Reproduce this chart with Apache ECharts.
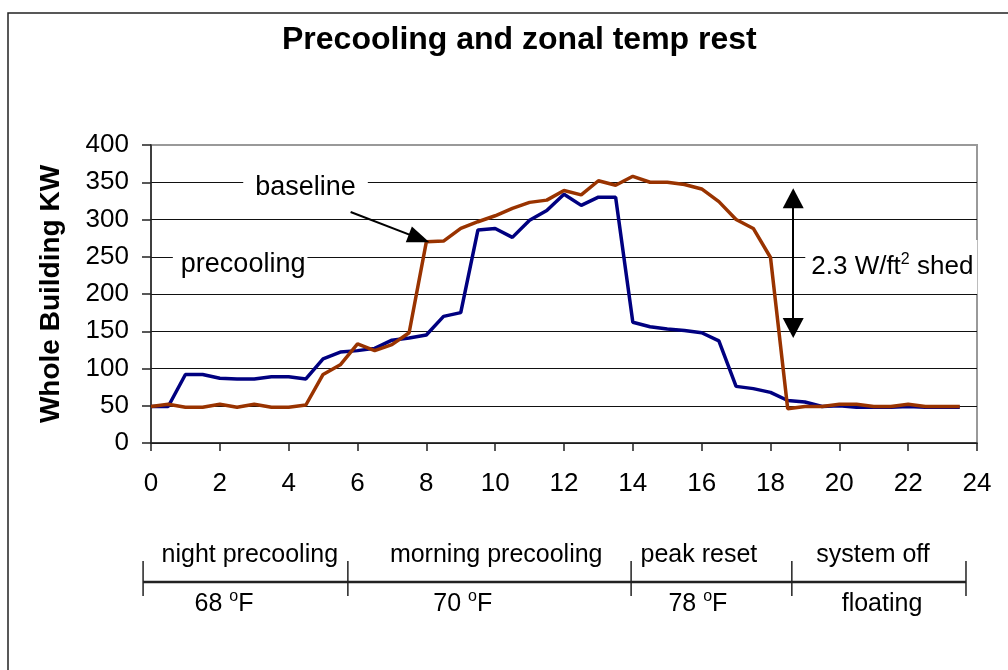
<!DOCTYPE html>
<html>
<head>
<meta charset="utf-8">
<style>
  html, body { margin: 0; padding: 0; background: #fff; }
  #chart { width: 1008px; height: 670px; }
</style>
<script src="https://cdn.jsdelivr.net/npm/echarts@6/dist/echarts.min.js"></script>
</head>
<body>
<div id="chart"></div>
<script>
var FONT = '"Liberation Sans", Arial, sans-serif';

// half-hour readings, hour of day
var hours = [0, 0.5, 1, 1.5, 2, 2.5, 3, 3.5, 4, 4.5, 5, 5.5, 6, 6.5, 7, 7.5,
    8, 8.5, 9, 9.5, 10, 10.5, 11, 11.5, 12, 12.5, 13, 13.5, 14, 14.5, 15, 15.5,
    16, 16.5, 17, 17.5, 18, 18.5, 19, 19.5, 20, 20.5, 21, 21.5, 22, 22.5, 23, 23.5];

var precooling = [49, 49, 92, 92, 87, 86, 86, 89, 89, 86, 113, 122, 124, 127, 138, 141,
    145, 170, 175, 286, 288, 276, 299, 312, 334, 319, 330, 330, 162, 156, 153, 151,
    148, 137, 76, 73, 68, 57, 55, 49, 50, 48, 48, 48, 49, 48, 48, 48];

var baseline = [49, 52, 48, 48, 52, 48, 52, 48, 48, 51, 92, 105, 133, 124, 132, 148,
    270, 271, 288, 297, 305, 315, 323, 326, 339, 333, 352, 346, 358, 350, 350, 347,
    341, 324, 300, 288, 249, 46, 49, 49, 52, 52, 49, 49, 52, 49, 49, 49];

// schedule strip under the chart (positions in hours)
var phaseEdges = [-0.23, 5.72, 13.95, 18.62, 23.68];
var phaseNames = ['night precooling', 'morning precooling', 'peak reset', 'system off'];
var phaseNameAt = [2.87, 10.03, 15.92, 20.98];
var phaseTemps = ['68', '70', '78', ''];
var phaseTempAt = [2.12, 9.06, 15.89, 21.24];

function pairs(xs, ys) {
    return xs.map(function (x, i) { return [x, ys[i]]; });
}

// small raised text inside rich labels
var supStyle = {
    fontSize: 16, fontFamily: FONT, color: '#000',
    lineHeight: 16, verticalAlign: 'top', padding: [0, 0, 12, 0]
};

var noteLabel = function (pad, size) {
    return {
        show: true,
        position: 'inside',
        formatter: '{b}',
        color: '#000',
        fontFamily: FONT,
        fontSize: size,
        lineHeight: 30,
        backgroundColor: '#fff',
        padding: pad,
        rich: { sup: supStyle }
    };
};

var gridColors = ['#111', '#111', '#111', '#111', '#111', '#111', '#111', '#111', '#999'];

var option = {
    animation: false,
    backgroundColor: '#fff',
    title: {
        text: 'Precooling and zonal temp rest',
        left: 282,
        top: 24,
        padding: 0,
        textStyle: { color: '#000', fontSize: 32, fontWeight: 'bold', fontFamily: FONT }
    },
    grid: {
        left: 151, right: 31, top: 145, bottom: 227,
        show: true, borderColor: '#999', borderWidth: 2,
        outerBoundsMode: 'none'
    },
    xAxis: {
        type: 'value', min: 0, max: 24, interval: 2,
        axisLine: { lineStyle: { color: '#222', width: 1.5 } },
        axisTick: { length: 8, lineStyle: { color: '#222', width: 1.5 } },
        axisLabel: { color: '#000', fontSize: 26, fontFamily: FONT, margin: 28 },
        splitLine: { show: false }
    },
    yAxis: {
        type: 'value', min: 0, max: 400, interval: 50,
        name: 'Whole Building KW',
        nameLocation: 'middle',
        nameGap: 86,
        nameTextStyle: { color: '#000', fontSize: 28, fontWeight: 'bold', fontFamily: FONT },
        axisLine: { show: true, lineStyle: { color: '#222', width: 1.5 } },
        axisTick: { show: true, length: 9, lineStyle: { color: '#222', width: 1.5 } },
        axisLabel: { color: '#000', fontSize: 26, fontFamily: FONT, margin: 22 },
        splitLine: { show: true, lineStyle: { color: gridColors, width: 1 } }
    },
    series: [
        {
            name: 'precooling',
            type: 'line',
            data: pairs(hours, precooling),
            showSymbol: false,
            lineStyle: { color: '#000080', width: 3.5 },
            itemStyle: { color: '#000080' },
            markPoint: {
                symbol: 'rect', symbolSize: 1,
                itemStyle: { color: 'rgba(0,0,0,0)' },
                label: noteLabel([0, 2, 0, 8], 27),
                data: [{ name: 'precooling', coord: [2.59, 239] }]
            }
        },
        {
            name: 'baseline',
            type: 'line',
            data: pairs(hours, baseline),
            showSymbol: false,
            lineStyle: { color: '#993300', width: 3.5 },
            itemStyle: { color: '#993300' },
            markPoint: {
                symbol: 'rect', symbolSize: 1,
                itemStyle: { color: 'rgba(0,0,0,0)' },
                data: [
                    { name: 'baseline', coord: [4.49, 342.3], label: noteLabel([0, 12], 27) },
                    {
                        name: '2.3 W/ft{sup|2} shed', coord: [21.51, 236.4],
                        label: noteLabel([12, 4, 12, 6], 26)
                    }
                ]
            },
            markLine: {
                silent: true,
                label: { show: false },
                lineStyle: { color: '#000', type: 'solid', width: 2 },
                data: [
                    [
                        { coord: [5.80, 310], symbol: 'none' },
                        { coord: [7.79, 274.7], symbol: 'triangle', symbolSize: [17, 22] }
                    ],
                    [
                        { coord: [18.66, 328.5], symbol: 'triangle', symbolSize: [21, 20] },
                        { coord: [18.66, 154.2], symbol: 'triangle', symbolSize: [21, 20] }
                    ]
                ]
            }
        }
    ]
};

var chart = echarts.init(document.getElementById('chart'));
chart.setOption(option);

// schedule strip and frame
function px(h) {
    return chart.convertToPixel({ gridIndex: 0 }, [h, 0])[0];
}
var lineY = 582, tickTop = 561, tickBottom = 596;
var graphics = [
    {
        type: 'rect', shape: { x: 8, y: 13, width: 1020, height: 700 },
        style: { fill: 'none', stroke: '#222', lineWidth: 1.5 }, silent: true
    },
    {
        type: 'line', shape: { x1: px(phaseEdges[0]), y1: lineY, x2: px(phaseEdges[phaseEdges.length - 1]), y2: lineY },
        style: { stroke: '#222', lineWidth: 2.5 }, silent: true
    }
];
phaseEdges.forEach(function (h) {
    graphics.push({
        type: 'line', shape: { x1: px(h), y1: tickTop, x2: px(h), y2: tickBottom },
        style: { stroke: '#222', lineWidth: 1.5 }, silent: true
    });
});
var stripText = function (text, x, y) {
    return {
        type: 'text', x: x, y: y, silent: true,
        style: {
            text: text, fill: '#000', font: '25px ' + FONT,
            align: 'center', verticalAlign: 'middle',
            rich: {
                n: { fontSize: 25, fontFamily: FONT, fill: '#000', lineHeight: 30 },
                sup: {
                    fontSize: 16, fontFamily: FONT, fill: '#000',
                    lineHeight: 16, verticalAlign: 'top', padding: [0, 0, 12, 0]
                }
            }
        }
    };
};
phaseNames.forEach(function (name, i) {
    graphics.push(stripText(name, px(phaseNameAt[i]), 555));
    var t = phaseTemps[i] ? '{n|' + phaseTemps[i] + ' }{sup|o}{n|F}' : 'floating';
    graphics.push(stripText(t, px(phaseTempAt[i]), 604));
});
chart.setOption({ graphic: graphics });
</script>
</body>
</html>
